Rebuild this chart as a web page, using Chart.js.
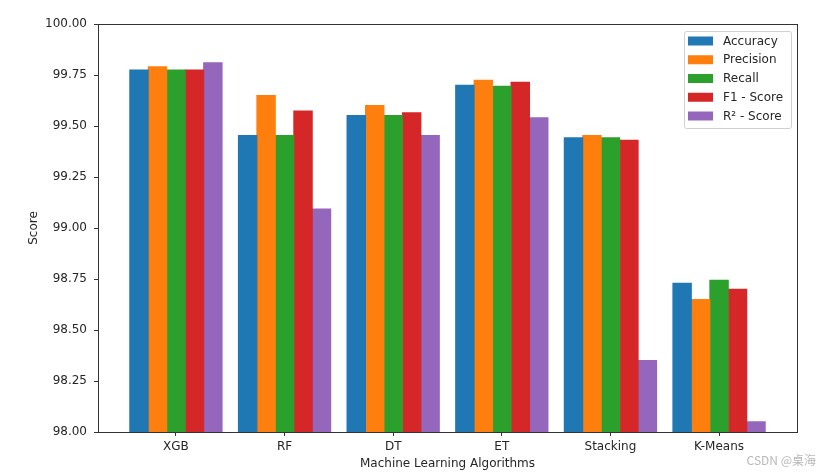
<!DOCTYPE html>
<html>
<head>
<meta charset="utf-8">
<script src="https://cdn.jsdelivr.net/npm/chart.js@4.4.1/dist/chart.umd.min.js"></script>
<style>
  body { margin: 0; background: #fff; }
  #wrap { width: 831px; height: 475px; }
</style>
</head>
<body>
<div id="wrap"><canvas id="myChart" width="831" height="475"></canvas></div>
<script>
// values
var algorithms = ['XGB', 'RF', 'DT', 'ET', 'Stacking', 'K-Means'];
var accuracy  = [99.775, 99.454, 99.552, 99.700, 99.443, 98.729];
var precision = [99.790, 99.650, 99.600, 99.724, 99.454, 98.650];
var recall    = [99.775, 99.454, 99.552, 99.695, 99.443, 98.744];
var f1score   = [99.775, 99.574, 99.565, 99.714, 99.430, 98.700];
var r2score   = [99.810, 99.093, 99.454, 99.541, 98.350, 98.050];
var yTicks = [98.00, 98.25, 98.50, 98.75, 99.00, 99.25, 99.50, 99.75, 100.00];

var seriesNames = ['Accuracy', 'Precision', 'Recall', 'F1 - Score', 'R\u00b2 - Score'];
var seriesValues = [accuracy, precision, recall, f1score, r2score];
var colors = ['#1f77b4', '#ff7f0e', '#2ca02c', '#d62728', '#9467bd'];

var font = 'DejaVu Sans';
var textColor = '#262626';

function points(vals){
	return vals.map(function(v,i){ return {x:i, y:v}; });
}

var datasets=[];
seriesNames.forEach(function(name,i){
	datasets.push({
		label:name,
		data:points(seriesValues[i]),
		backgroundColor:colors[i],
		borderWidth:0,
		inflateAmount:0.5,
		categoryPercentage:0.85,
		barPercentage:1.0
	});
});

// box around plot, legend in the upper right, watermark
var extras = {
	id:'extras',
	afterDraw:function(chart){
		var ctx=chart.ctx, a=chart.chartArea;
		ctx.save();
		ctx.strokeStyle='#333';
		ctx.lineWidth=1;
		ctx.strokeRect(Math.round(a.left)+0.5, Math.round(a.top)+0.5, Math.round(a.right-a.left), Math.round(a.bottom-a.top));

		var bx=a.right-113, by=a.top+7, bw=107, bh=97;
		ctx.fillStyle='rgba(255,255,255,0.8)';
		ctx.strokeStyle='#d0d0d0';
		ctx.beginPath();
		ctx.roundRect(bx+0.5, by+0.5, bw, bh, 2);
		ctx.fill();
		ctx.stroke();
		ctx.font='12px "'+font+'"';
		ctx.textBaseline='middle';
		chart.data.datasets.forEach(function(ds,i){
			var cy=by+10+i*18.75;
			ctx.fillStyle=ds.backgroundColor;
			ctx.fillRect(bx+4, cy-4.5, 25, 9);
			ctx.fillStyle=textColor;
			ctx.fillText(ds.label, bx+39, cy+0.5);
		});

		ctx.font='12px "Noto Sans CJK SC", "'+font+'"';
		ctx.fillStyle='#b8b8b8';
		ctx.textAlign='right';
		ctx.fillText('CSDN @\u684c\u6d77', 816, 460);
		ctx.restore();
	}
};

var ctx = document.getElementById("myChart").getContext("2d");
var myChart = new Chart(ctx, {
	type:'bar',
	data:{ datasets:datasets },
	plugins:[extras],
	options:{
		responsive:false,
		animation:false,
		layout:{ padding:{ left:0, right:34, top:24, bottom:0 } },
		plugins:{
			legend:{ display:false },
			tooltip:{ enabled:false }
		},
		scales:{
			x:{
				type:'linear',
				min:-0.7175,
				max:5.7175,
				offset:false,
				afterFit:function(s){ s.height=43; },
				grid:{ offset:false, drawOnChartArea:false, drawTicks:true, tickLength:4, tickColor:'#333' },
				border:{ color:'#333' },
				ticks:{
					stepSize:1,
					includeBounds:false,
					autoSkip:false,
					maxRotation:0,
					padding:4,
					color:textColor,
					font:{ family:font, size:12 },
					callback:function(v){ return Number.isInteger(v) ? algorithms[v] : ''; }
				},
				title:{
					display:true,
					text:'Machine Learning Algorithms',
					color:textColor,
					font:{ family:font, size:12 },
					padding:{ top:0, bottom:4 }
				}
			},
			y:{
				min:yTicks[0],
				max:yTicks[yTicks.length-1],
				afterFit:function(s){ s.width=98; },
				afterBuildTicks:function(s){ s.ticks=yTicks.map(function(v){ return {value:v}; }); },
				grid:{ drawOnChartArea:false, drawTicks:true, tickLength:4, tickColor:'#333' },
				border:{ color:'#333' },
				ticks:{
					padding:7,
					color:textColor,
					font:{ family:font, size:12 },
					callback:function(v){ return v.toFixed(2); }
				},
				title:{
					display:true,
					text:'Score',
					color:textColor,
					font:{ family:font, size:12 },
					padding:{ top:27, bottom:0 }
				}
			}
		}
	}
});
</script>
</body>
</html>
